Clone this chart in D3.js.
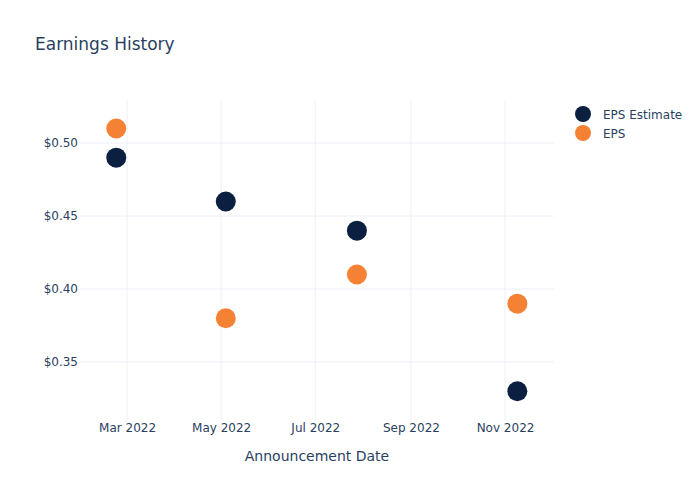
<!DOCTYPE html>
<html><head><meta charset="utf-8">
<script src="https://cdn.jsdelivr.net/npm/d3@7"></script>
<style>body{margin:0;background:#fff}svg{display:block;font-family:"DejaVu Sans",Verdana,sans-serif}</style>
</head><body>
<script>
const dates = ["2022-02-22", "2022-05-04", "2022-07-28", "2022-11-09"];
const epsEstimate = [0.49, 0.46, 0.44, 0.33];
const eps = [0.51, 0.38, 0.41, 0.39];
const yTicks = [0.35, 0.40, 0.45, 0.50];
const xTicks = ["2022-03-01", "2022-05-01", "2022-07-01", "2022-09-01", "2022-11-01"];
const seriesNames = ["EPS Estimate", "EPS"];
const colors = ["#0b1f41", "#f58234"];

const W = 700, H = 500;
const m = {l: 80, r: 146, t: 100, b: 80};
const parse = d3.utcParse("%Y-%m-%d");
const svg = d3.select("body").append("svg").attr("width", W).attr("height", H);

const x = d3.scaleUtc()
  .domain([new Date(Date.UTC(2022,0,29,12)), new Date(Date.UTC(2022,11,2,18))])
  .range([m.l, W - m.r]);
const y = d3.scaleLinear().domain([0.3103, 0.5295]).range([H - m.b, m.t]);

const grid = svg.append("g");
grid.selectAll("line.gx").data(xTicks).join("line")
  .attr("x1", d => x(parse(d))).attr("x2", d => x(parse(d)))
  .attr("y1", m.t).attr("y2", H - m.b).attr("stroke", "#ebf0f8").attr("stroke-width", 1);
grid.selectAll("line.gy").data(yTicks).join("line")
  .attr("y1", d => y(d)).attr("y2", d => y(d))
  .attr("x1", m.l).attr("x2", W - m.r).attr("stroke", "#ebf0f8").attr("stroke-width", 1);

const xAxis = d3.axisBottom(x).tickValues(xTicks.map(parse)).tickSize(0).tickPadding(3)
  .tickFormat(d3.utcFormat("%b %Y"));
const gx = svg.append("g").attr("transform", `translate(0,${H - m.b})`).call(xAxis);
gx.select(".domain").remove();
gx.selectAll("text").attr("fill", "#2a3f5f").style("font-size", "12px").style("font-family", "DejaVu Sans");

const yAxis = d3.axisLeft(y).tickValues(yTicks).tickSize(0).tickPadding(2)
  .tickFormat(d => "$" + d3.format(".2f")(d));
const gy = svg.append("g").attr("transform", `translate(${m.l},0)`).call(yAxis);
gy.select(".domain").remove();
gy.selectAll("text").attr("fill", "#2a3f5f").style("font-size", "12px").style("font-family", "DejaVu Sans");

const series = [epsEstimate, eps];
series.forEach((vals, i) => {
  svg.append("g").selectAll("circle").data(vals).join("circle")
    .attr("cx", (d, j) => x(parse(dates[j]))).attr("cy", d => y(d))
    .attr("r", 10).attr("fill", colors[i]);
});

svg.append("text").attr("x", 35).attr("y", 50).text("Earnings History")
  .attr("fill", "#2a3f5f").style("font-size", "17px");
svg.append("text").attr("x", (m.l + W - m.r) / 2).attr("y", 461).attr("text-anchor", "middle")
  .text("Announcement Date").attr("fill", "#2a3f5f").style("font-size", "14px");

const leg = svg.append("g");
seriesNames.forEach((n, i) => {
  const yy = 114 + i * 19;
  leg.append("circle").attr("cx", 583).attr("cy", yy).attr("r", 8).attr("fill", colors[i]);
  leg.append("text").attr("x", 603).attr("y", yy + 4.5).text(n).attr("fill", "#2a3f5f").style("font-size", "12px");
});
</script>
</body></html>
